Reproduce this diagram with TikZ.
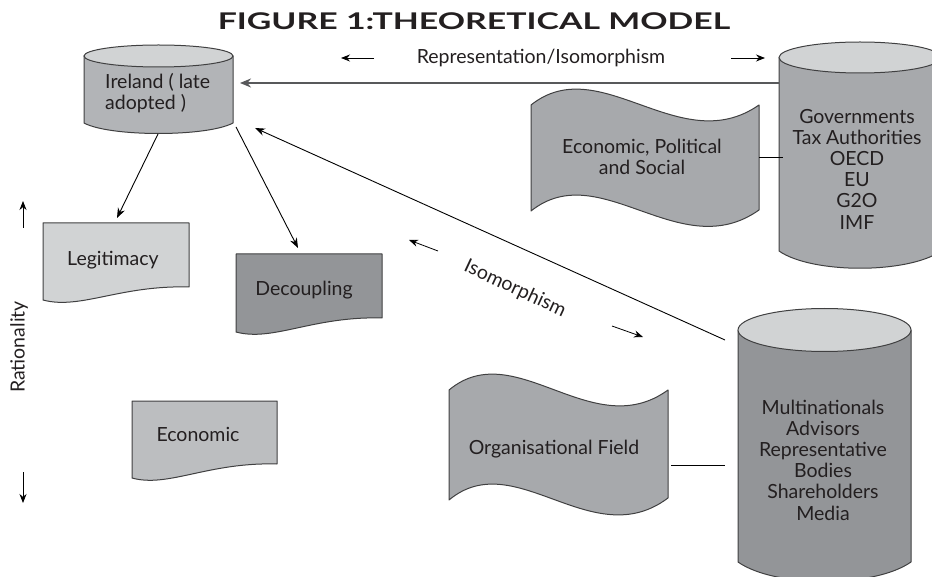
\documentclass[tikz,border=0pt]{standalone}
\usepackage{fontspec}
\setmainfont{Lato}
\usetikzlibrary{arrows.meta}
\definecolor{edge}{RGB}{64,64,65}
\definecolor{txt}{RGB}{35,31,32}
\definecolor{lightg}{RGB}{209,211,212}
\definecolor{midg}{RGB}{188,190,192}
\definecolor{irel}{RGB}{178,180,183}
\definecolor{bodyg}{RGB}{167,169,172}
\definecolor{darkg}{RGB}{147,149,152}
\definecolor{lineg}{RGB}{88,89,91}
\tikzset{
  shp/.style={draw=edge, line width=1pt, line join=round},
  lbl/.style={font=\fontsize{19.5}{21.2}\selectfont, text=txt, align=center, inner sep=0pt},
  conn/.style={draw=black, line width=0.9pt, -{Stealth[length=10pt,width=7.5pt]}},
  mainarrow/.style={draw=lineg, line width=2pt, -{Stealth[length=11pt,width=9pt]}},
  smallarr/.style={draw=black, line width=0.8pt, -{Stealth[length=9pt,width=7pt]}},
  plain/.style={draw=black, line width=0.9pt}
}
\begin{document}
\begin{tikzpicture}[x=1pt,y=-1pt]
\useasboundingbox (0,0) rectangle (932,577);

% title
\node[font=\fontsize{23}{26}\selectfont\bfseries, text=txt, inner sep=0pt] (title) at (474,21) {\scalebox{1.47}[1]{FIGURE 1:THEORETICAL MODEL}};

% Ireland cylinder
\path[shp, fill=irel] (84,56) -- (84,123) .. controls (110,137) and (207,137) .. (233,123) -- (233,56) -- cycle;
\draw[shp, fill=lightg] (158.5,56) ellipse [x radius=74.5, y radius=11];
\node[lbl, align=left, anchor=west] (ire) at (105,93) {Ireland ( late\\adopted )};

% Governments cylinder
\path[shp, fill=bodyg] (779,57.5) -- (779,251) .. controls (812,274) and (908,274) .. (941,251) -- (941,57.5) -- cycle;
\draw[shp, fill=lightg] (860,57.5) ellipse [x radius=81, y radius=15.5];
\node[lbl] (gov) at (857,169) {Governments\\Tax Authorities\\OECD\\EU\\G2O\\IMF};

% Multinationals cylinder
\path[shp, fill=darkg] (738,330) -- (738,562) .. controls (775,588) and (874,588) .. (911,562) -- (911,330) -- cycle;
\draw[shp, fill=lightg] (824.5,330) ellipse [x radius=86.5, y radius=21.5];
\node[lbl] (multi) at (823,460) {Multinationals\\Advisors\\Representative\\Bodies\\Shareholders\\Media};

% Economic, Political and Social tape
\path[shp, fill=bodyg] (531,105) .. controls (600,50) and (680,160) .. (759,105) -- (759,210)
  .. controls (680,266) and (600,156) .. (531,211) -- cycle;
\node[lbl] (eps) at (642,157) {Economic, Political\\and Social};

% Organisational field tape
\path[shp, fill=bodyg] (449,390) .. controls (515,335) and (592,445) .. (668,390) -- (668,498)
  .. controls (592,555) and (515,445) .. (449,500) -- cycle;
\node[lbl] (org) at (554,449) {Organisational Field};

% Legitimacy document
\path[shp, fill=lightg] (43,223) -- (189,223) -- (189,287) .. controls (120,285) and (80,310) .. (43,300) -- cycle;
\node[lbl] (leg) at (113,260) {Legitimacy};

% Decoupling document
\path[shp, fill=darkg] (236,254) -- (382,254) -- (382,318) .. controls (313,316) and (273,342) .. (236,332) -- cycle;
\node[lbl] (dec) at (304,290) {Decoupling};

% Economic document
\path[shp, fill=midg] (132,401) -- (277,401) -- (277,464) .. controls (208,462) and (168,488) .. (132,478) -- cycle;
\node[lbl] (eco) at (198,434) {Economic};

% labels
\node[lbl] (rep) at (541,58) {Representation/Isomorphism};
\node[lbl, rotate=-25] (iso) at (515,289) {Isomorphism};
\node[lbl, rotate=90] (rat) at (19,347) {Rationality};

% connector end points
\coordinate (gw) at (779,83);
\coordinate (ie) at (240,83);
\coordinate (ib1) at (158,134);
\coordinate (ib2) at (236,127);
\coordinate (lt) at (117,218);
\coordinate (dt) at (298,248);
\coordinate (mw) at (725,340);
\coordinate (ie2) at (255,128);
\coordinate (epsE) at (759,157);
\coordinate (govW) at (783,157);
\coordinate (orgE) at (671,465);
\coordinate (multiW) at (725,465);

% connectors
\draw[mainarrow] (gw) -- (ie);
\draw[conn] (ib1) -- (lt);
\draw[conn] (ib2) -- (dt);
\draw[conn] (mw) -- (ie2);
\draw[plain] (epsE) -- (govW);
\draw[plain] (orgE) -- (multiW);

% small direction arrows
\coordinate (a1s) at (374,58); \coordinate (a1e) at (341,58);
\coordinate (a2s) at (731,58); \coordinate (a2e) at (765,58);
\coordinate (a3s) at (438,251); \coordinate (a3e) at (409,240);
\coordinate (a4s) at (612,326); \coordinate (a4e) at (643,337);
\coordinate (a5s) at (23,228); \coordinate (a5e) at (23,201);
\coordinate (a6s) at (23,472); \coordinate (a6e) at (23,503);
\draw[smallarr] (a1s) -- (a1e);
\draw[smallarr] (a2s) -- (a2e);
\draw[smallarr] (a3s) -- (a3e);
\draw[smallarr] (a4s) -- (a4e);
\draw[smallarr] (a5s) -- (a5e);
\draw[smallarr] (a6s) -- (a6e);
\end{tikzpicture}
\end{document}
